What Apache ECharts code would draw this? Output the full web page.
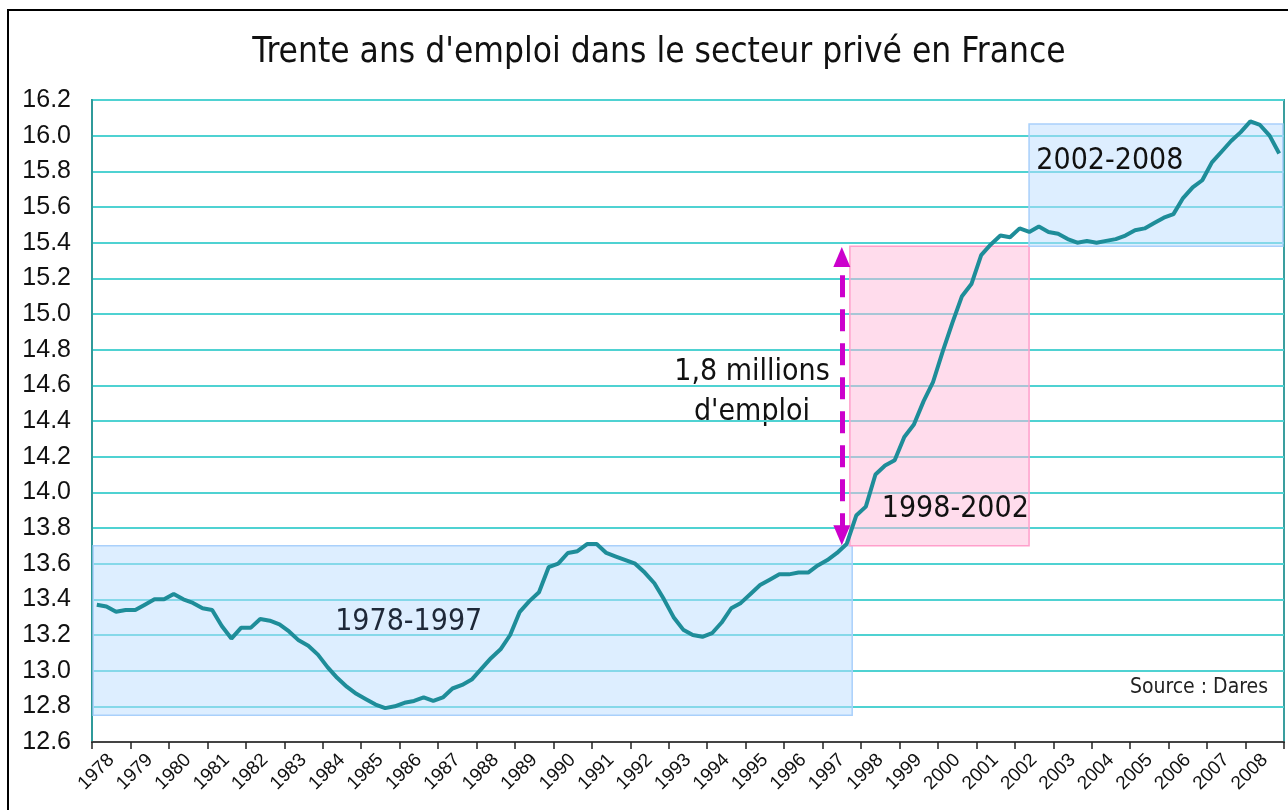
<!DOCTYPE html>
<html>
<head>
<meta charset="utf-8">
<script src="https://cdn.jsdelivr.net/npm/echarts@6/dist/echarts.min.js"></script>
<style>
  html, body { margin: 0; padding: 0; background: #fff; }
  #chart { width: 1288px; height: 810px; }
</style>
</head>
<body>
<div id="chart"></div>
<script>
// tick labels (one category per year)
var years = ['1978', '1979', '1980', '1981', '1982', '1983', '1984', '1985', '1986', '1987',
  '1988', '1989', '1990', '1991', '1992', '1993', '1994', '1995', '1996', '1997',
  '1998', '1999', '2000', '2001', '2002', '2003', '2004', '2005', '2006', '2007', '2008'];

// emploi salarié privé, millions, trimestriel 1978T1 -> 2008T4
var emploi = [
  13.37, 13.36, 13.33, 13.34, 13.34, 13.37, 13.40, 13.40, 13.43, 13.40,
  13.38, 13.35, 13.34, 13.25, 13.18, 13.24, 13.24, 13.29, 13.28, 13.26,
  13.22, 13.17, 13.14, 13.09, 13.02, 12.96, 12.91, 12.87, 12.84, 12.81,
  12.79, 12.80, 12.82, 12.83, 12.85, 12.83, 12.85, 12.90, 12.92, 12.95,
  13.01, 13.07, 13.12, 13.20, 13.33, 13.39, 13.44, 13.58, 13.60, 13.66,
  13.67, 13.71, 13.71, 13.66, 13.64, 13.62, 13.60, 13.55, 13.49, 13.40,
  13.30, 13.23, 13.20, 13.19, 13.21, 13.27, 13.35, 13.38, 13.43, 13.48,
  13.51, 13.54, 13.54, 13.55, 13.55, 13.59, 13.62, 13.66, 13.71, 13.87,
  13.92, 14.10, 14.15, 14.18, 14.31, 14.38, 14.51, 14.62, 14.79, 14.95,
  15.10, 15.17, 15.33, 15.39, 15.44, 15.43, 15.48, 15.46, 15.49, 15.46,
  15.45, 15.42, 15.40, 15.41, 15.40, 15.41, 15.42, 15.44, 15.47, 15.48,
  15.51, 15.54, 15.56, 15.65, 15.71, 15.75, 15.85, 15.91, 15.97, 16.02,
  16.08, 16.06, 16.00, 15.90
];

// highlighted periods: label, [x from, x to] in years, [y low, y high]
var periodLabels = ['1978-1997', '1998-2002', '2002-2008'];
var periodX = [[1978.03, 1997.77], [1997.71, 2002.37], [2002.37, 2008.97]];
var periodY = [[12.75, 13.70], [13.70, 15.38], [15.38, 16.065]];

// arrow "1,8 millions d'emploi"
var arrowX = 1997.5;
var arrowY = [13.76, 15.32];

var chart = echarts.init(document.getElementById('chart'));

var lineData = emploi.map(function (v, i) {
  return [1978 + (i + 0.5) / 4, v];
});

var blueArea = { color: 'rgba(187,221,255,0.5)', borderColor: '#a9d0fb', borderWidth: 1.5 };
var pinkArea = { color: 'rgba(255,185,217,0.5)', borderColor: '#ff9fcb', borderWidth: 1.5 };
var areaStyles = [blueArea, pinkArea, blueArea];
var areaLabels = [
  { position: 'inside', offset: [-64, -8], color: '#1e2838' },
  { position: 'insideBottomRight', offset: [4, -17], color: '#111' },
  { position: 'insideTopLeft', offset: [3, 18], color: '#111' }
];

var areaData = periodLabels.map(function (name, i) {
  var lab = areaLabels[i];
  return [
    {
      name: name,
      coord: [periodX[i][0], periodY[i][1]],
      itemStyle: areaStyles[i],
      label: {
        show: true,
        position: lab.position,
        offset: lab.offset,
        color: lab.color,
        fontSize: 30,
        fontFamily: 'DejaVu Sans Condensed'
      }
    },
    { coord: [periodX[i][1], periodY[i][0]] }
  ];
});

var option = {
  animation: false,
  backgroundColor: '#fff',
  grid: {
    left: 92, right: 4, top: 100, bottom: 68,
    show: true,
    borderColor: '#3a9e9e',
    borderWidth: 2
  },
  xAxis: [
    {
      type: 'category',
      data: years,
      boundaryGap: true,
      axisLine: { lineStyle: { color: '#444', width: 2 } },
      axisTick: { show: true, interval: 0, length: 7, lineStyle: { color: '#222', width: 1.5 } },
      axisLabel: {
        interval: 0,
        rotate: 45,
        fontSize: 19,
        margin: 15,
        color: '#111',
        fontFamily: 'Liberation Sans'
      },
      splitLine: { show: false }
    },
    {
      type: 'value',
      min: 1978,
      max: 2009,
      show: false
    }
  ],
  yAxis: {
    type: 'value',
    min: 12.6,
    max: 16.2,
    interval: 0.2,
    axisLine: { show: true, lineStyle: { color: '#2f9a9a', width: 2 } },
    axisTick: { show: false },
    axisLabel: {
      fontSize: 25,
      color: '#111',
      margin: 21,
      fontFamily: 'Liberation Sans',
      formatter: function (v) { return v.toFixed(1); }
    },
    splitLine: { lineStyle: { color: '#4fd2d2', width: 2 } }
  },
  series: [
    {
      // shaded periods, below the curve
      type: 'line',
      xAxisIndex: 1,
      data: [],
      z: 1,
      silent: true,
      markArea: { silent: true, data: areaData }
    },
    {
      type: 'line',
      name: 'Emploi',
      xAxisIndex: 1,
      data: lineData,
      showSymbol: false,
      z: 4,
      lineStyle: { color: '#1e8d99', width: 4 },
      markLine: {
        silent: true,
        symbol: ['triangle', 'triangle'],
        symbolSize: [17, 20],
        label: { show: false },
        lineStyle: { color: '#cc00cc', width: 5, type: [22, 12] },
        data: [[{ coord: [arrowX, arrowY[0]] }, { coord: [arrowX, arrowY[1]] }]]
      }
    }
  ],
  graphic: [
    {
      type: 'rect',
      shape: { x: 8, y: 10, width: 1300, height: 820 },
      style: { fill: 'none', stroke: '#000', lineWidth: 2 },
      silent: true
    },
    {
      type: 'text',
      x: 659, y: 53,
      style: {
        text: "Trente ans d'emploi dans le secteur privé en France",
        fill: '#111',
        font: '35px "DejaVu Sans Condensed"',
        align: 'center',
        verticalAlign: 'middle'
      }
    },
    {
      type: 'text',
      x: 752, y: 392,
      style: {
        text: "1,8 millions\nd'emploi",
        fill: '#111',
        font: '30px "DejaVu Sans Condensed"',
        lineHeight: 40,
        align: 'center',
        verticalAlign: 'middle'
      }
    },
    {
      type: 'text',
      x: 1268, y: 688,
      style: {
        text: 'Source : Dares',
        fill: '#222',
        font: '21px "DejaVu Sans Condensed"',
        align: 'right',
        verticalAlign: 'middle'
      }
    }
  ]
};

chart.setOption(option);
</script>
</body>
</html>
